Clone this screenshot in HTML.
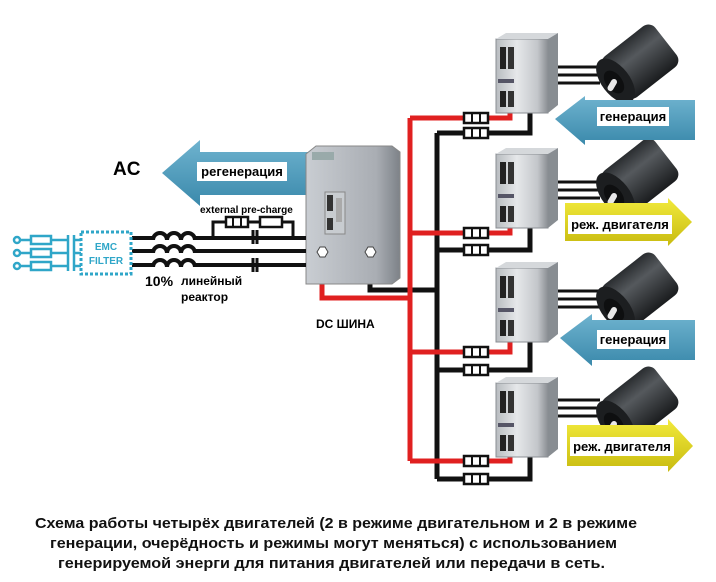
<!DOCTYPE html>
<html><head><meta charset="utf-8"><style>
body{margin:0;background:#fff;}
svg{display:block;font-family:"Liberation Sans","DejaVu Sans",sans-serif;}
</style></head><body>
<svg width="716" height="582" viewBox="0 0 716 582" xmlns="http://www.w3.org/2000/svg">
<defs>
<linearGradient id="cab" x1="0" x2="1"><stop offset="0" stop-color="#c9cdd2"/><stop offset="0.75" stop-color="#a9adb3"/><stop offset="1" stop-color="#7d8288"/></linearGradient>
<linearGradient id="drv" x1="0" x2="1"><stop offset="0" stop-color="#b8bcc0"/><stop offset="0.4" stop-color="#e6e8ea"/><stop offset="0.8" stop-color="#c3c6ca"/><stop offset="1" stop-color="#8a8e93"/></linearGradient>
<linearGradient id="mot" x1="0" x2="0" y1="0" y2="1"><stop offset="0" stop-color="#2a2d30"/><stop offset="0.35" stop-color="#55595d"/><stop offset="1" stop-color="#1a1c1e"/></linearGradient>
<linearGradient id="blu" x1="0" x2="0" y1="0" y2="1"><stop offset="0" stop-color="#6fb3cf"/><stop offset="1" stop-color="#3a89ab"/></linearGradient>
<linearGradient id="yel" x1="0" x2="0" y1="0" y2="1"><stop offset="0" stop-color="#f2ea3c"/><stop offset="1" stop-color="#c8bb10"/></linearGradient>
<g id="fuse"><rect x="-12" y="-5" width="24" height="10" fill="#fff" stroke="#111" stroke-width="2.5"/><line x1="-4" y1="-5" x2="-4" y2="5" stroke="#111" stroke-width="2"/><line x1="4" y1="-5" x2="4" y2="5" stroke="#111" stroke-width="2"/></g>
<g id="drive">
<rect x="0" y="6" width="52" height="74" fill="url(#drv)" stroke="#8a8e93"/>
<polygon points="0,6 10,0 62,0 52,6" fill="#d5d8db"/>
<polygon points="52,6 62,0 62,72 52,80" fill="#888d92"/>
<rect x="4" y="14" width="6" height="22" fill="#222"/><rect x="12" y="14" width="6" height="22" fill="#333"/>
<rect x="4" y="58" width="6" height="16" fill="#222"/><rect x="12" y="58" width="6" height="16" fill="#333"/>
<rect x="2" y="46" width="16" height="4" fill="#556"/>
</g>
<g id="motor">
<g transform="rotate(-38)">
<rect x="0" y="-26" width="66" height="52" rx="9" fill="url(#mot)"/>
<ellipse cx="2" cy="0" rx="14" ry="26" fill="#1c1e20"/>
<ellipse cx="0" cy="0" rx="8" ry="13" fill="#0e0f10"/>
</g>
<rect x="-10" y="-3" width="13" height="6" rx="3" fill="#e8e8e8" transform="rotate(-60)"/>
</g>
</defs>

<g fill="none" stroke-width="5" stroke-linejoin="miter">
<path d="M322,255 V298 H410" stroke="#e02020"/>
<path d="M370,255 V290 H437" stroke="#111"/>
<path d="M410,118 V461" stroke="#e02020"/>
<path d="M437,133 V479" stroke="#111"/>
<path d="M410,118 H510 V108" stroke="#e02020"/>
<path d="M437,133 H530 V108" stroke="#111"/>
<path d="M410,233 H510 V223" stroke="#e02020"/>
<path d="M437,250 H530 V223" stroke="#111"/>
<path d="M410,352 H510 V338" stroke="#e02020"/>
<path d="M437,370 H530 V338" stroke="#111"/>
<path d="M410,461 H510 V452" stroke="#e02020"/>
<path d="M437,479 H530 V452" stroke="#111"/>
</g>
<use href="#fuse" x="476" y="118"/><use href="#fuse" x="476" y="133"/>
<use href="#fuse" x="476" y="233"/><use href="#fuse" x="476" y="250"/>
<use href="#fuse" x="476" y="352"/><use href="#fuse" x="476" y="370"/>
<use href="#fuse" x="476" y="461"/><use href="#fuse" x="476" y="479"/>

<g stroke="#111" stroke-width="3">
<line x1="558" y1="67" x2="600" y2="67"/><line x1="558" y1="75" x2="600" y2="75"/><line x1="558" y1="83" x2="600" y2="83"/>
<line x1="558" y1="182" x2="600" y2="182"/><line x1="558" y1="190" x2="600" y2="190"/><line x1="558" y1="198" x2="600" y2="198"/>
<line x1="558" y1="291" x2="600" y2="291"/><line x1="558" y1="299" x2="600" y2="299"/><line x1="558" y1="307" x2="600" y2="307"/>
<line x1="558" y1="400" x2="600" y2="400"/><line x1="558" y1="408" x2="600" y2="408"/><line x1="558" y1="416" x2="600" y2="416"/>
</g>
<use href="#drive" x="496" y="33"/><use href="#drive" x="496" y="148"/>
<use href="#drive" x="496" y="262"/><use href="#drive" x="496" y="377"/>
<use href="#motor" x="614" y="82"/><use href="#motor" x="614" y="196"/>
<use href="#motor" x="614" y="310"/><use href="#motor" x="614" y="424"/>

<polygon points="555,119 585,96 585,100 695,100 695,140 585,140 585,145" fill="url(#blu)"/>
<rect x="597" y="107" width="72" height="19" fill="#fff"/>
<text x="633" y="121" font-size="13" font-weight="bold" text-anchor="middle">генерация</text>
<polygon points="565,203 668,203 668,198 692,222 668,246 668,241 565,241" fill="url(#yel)"/>
<rect x="568" y="215" width="104" height="19" fill="#fff"/>
<text x="620" y="229" font-size="13" font-weight="bold" text-anchor="middle">реж. двигателя</text>
<polygon points="560,338 592,314 592,320 695,320 695,360 592,360 592,366" fill="url(#blu)"/>
<rect x="597" y="330" width="72" height="19" fill="#fff"/>
<text x="633" y="344" font-size="13" font-weight="bold" text-anchor="middle">генерация</text>
<polygon points="567,425 668,425 668,419 693,446 668,472 668,466 567,466" fill="url(#yel)"/>
<rect x="570" y="437" width="104" height="19" fill="#fff"/>
<text x="622" y="451" font-size="13" font-weight="bold" text-anchor="middle">реж. двигателя</text>

<polygon points="162,173 200,140 200,152 310,152 310,195 200,195 200,206" fill="url(#blu)"/>
<rect x="197" y="162" width="90" height="19" fill="#fff"/>
<text x="242" y="176" font-size="13" font-weight="bold" text-anchor="middle">регенерация</text>
<text x="113" y="175" font-size="19" font-weight="bold">AC</text>

<polygon points="306,154 316,146 392,146 400,152 400,278 392,284 306,284" fill="url(#cab)" stroke="#888"/>
<rect x="312" y="152" width="22" height="8" fill="#9aa"/>
<rect x="325" y="192" width="20" height="42" fill="#c8ccd0" stroke="#888"/>
<rect x="327" y="195" width="6" height="16" fill="#333"/><rect x="327" y="218" width="6" height="12" fill="#333"/>
<rect x="336" y="198" width="6" height="24" fill="#aaa"/>
<polygon points="317,252 320,247 325,247 328,252 325,257 320,257" fill="#fff" stroke="#444"/>
<polygon points="365,252 368,247 373,247 376,252 373,257 368,257" fill="#fff" stroke="#444"/>

<g stroke="#111" stroke-width="4" fill="none">
<line x1="132" y1="238" x2="306" y2="238"/><line x1="132" y1="251" x2="306" y2="251"/><line x1="132" y1="265" x2="306" y2="265"/>
<path d="M213,238 V222 H293 V238" stroke-width="3"/>
<line x1="253" y1="230" x2="253" y2="244" stroke-width="3"/><line x1="257" y1="230" x2="257" y2="244" stroke-width="3"/>
<line x1="253" y1="258" x2="253" y2="272" stroke-width="3"/><line x1="257" y1="258" x2="257" y2="272" stroke-width="3"/>
</g>
<g fill="#fff" stroke="#111" stroke-width="2.5">
<rect x="226" y="217" width="22" height="10"/><rect x="260" y="217" width="22" height="10"/>
</g>
<line x1="233" y1="217" x2="233" y2="227" stroke="#111" stroke-width="2"/><line x1="241" y1="217" x2="241" y2="227" stroke="#111" stroke-width="2"/>
<g fill="#fff" stroke="#111" stroke-width="4">
<path d="M153,240 a7,7 0 0 1 14,0 a7,7 0 0 1 14,0 a7,7 0 0 1 14,0"/>
<path d="M153,253 a7,7 0 0 1 14,0 a7,7 0 0 1 14,0 a7,7 0 0 1 14,0"/>
<path d="M153,267 a7,7 0 0 1 14,0 a7,7 0 0 1 14,0 a7,7 0 0 1 14,0"/>
</g>
<text x="200" y="213" font-size="10" font-weight="bold">external pre-charge</text>
<text x="145" y="286" font-size="14" font-weight="bold">10%</text>
<text x="181" y="285" font-size="12" font-weight="bold">линейный</text>
<text x="181" y="301" font-size="12" font-weight="bold">реактор</text>
<text x="316" y="328" font-size="12" font-weight="bold">DC ШИНА</text>

<rect x="81" y="232" width="50" height="42" fill="#fff" stroke="#2fa6c8" stroke-width="3" stroke-dasharray="3,2"/>
<text x="106" y="250" font-size="10" font-weight="bold" fill="#2fa6c8" text-anchor="middle">EMC</text>
<text x="106" y="264" font-size="10" font-weight="bold" fill="#2fa6c8" text-anchor="middle">FILTER</text>
<g stroke="#2fa6c8" stroke-width="2.5" fill="#fff">
<circle cx="17" cy="240" r="3"/><circle cx="17" cy="253" r="3"/><circle cx="17" cy="266" r="3"/>
<line x1="20" y1="240" x2="68" y2="240"/><line x1="20" y1="253" x2="68" y2="253"/><line x1="20" y1="266" x2="68" y2="266"/>
<rect x="31" y="236" width="20" height="8"/><rect x="31" y="249" width="20" height="8"/><rect x="31" y="262" width="20" height="8"/>
<line x1="68" y1="235" x2="68" y2="271"/><line x1="74" y1="235" x2="74" y2="271"/>
<line x1="74" y1="240" x2="81" y2="240"/><line x1="74" y1="253" x2="81" y2="253"/><line x1="74" y1="266" x2="81" y2="266"/>
</g>

<g font-size="15" fill="#111" font-weight="bold">
<text x="35" y="528" textLength="602" lengthAdjust="spacingAndGlyphs">Схема работы четырёх двигателей (2 в режиме двигательном и 2 в режиме</text>
<text x="50" y="548" textLength="567" lengthAdjust="spacingAndGlyphs">генерации, очерёдность и режимы могут меняться) с использованием</text>
<text x="58" y="568" textLength="547" lengthAdjust="spacingAndGlyphs">генерируемой энерги для питания двигателей или передачи в сеть.</text>
</g>
</svg>
</body></html>
